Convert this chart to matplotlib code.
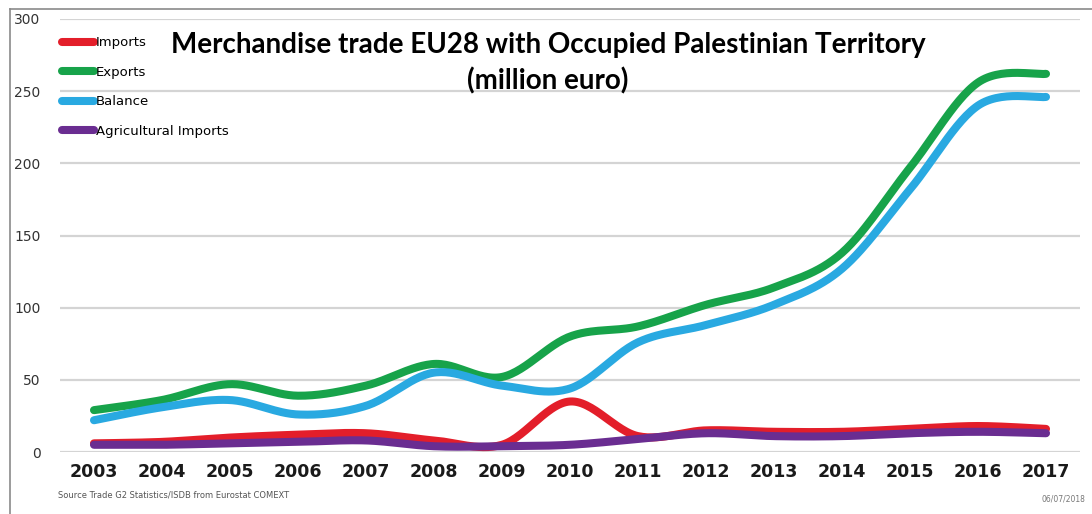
import matplotlib.pyplot as plt
import numpy as np
from matplotlib.lines import Line2D

# Werte (Mio. Euro)
years = [2003, 2004, 2005, 2006, 2007, 2008, 2009, 2010, 2011, 2012, 2013, 2014, 2015, 2016, 2017]
imports = [6, 7, 10, 12, 13, 8, 5, 35, 11, 15, 14, 14, 16, 18, 16]
exports = [29, 36, 47, 39, 46, 61, 52, 80, 87, 102, 114, 138, 197, 256, 262]
balance = [22, 31, 36, 26, 32, 55, 46, 44, 76, 88, 102, 127, 182, 240, 246]
agri_imports = [5, 5, 6, 7, 8, 4, 4, 5, 9, 13, 11, 11, 13, 14, 13]

series_names = ["Imports", "Exports", "Balance", "Agricultural Imports"]
colors = ["#e31e2a", "#17a34a", "#29a9e1", "#6a2d91"]


def smooth(x, y, n=30):
    # Glättung wie bei Excel-Linien (Bezier durch die Datenpunkte)
    x = np.asarray(x, dtype=float)
    y = np.asarray(y, dtype=float)
    px = np.concatenate([[x[0]], x, [x[-1]]])
    py = np.concatenate([[y[0]], y, [y[-1]]])
    t = np.linspace(0, 1, n)
    xs, ys = [], []
    for i in range(1, len(px) - 2):
        p0 = np.array([px[i - 1], py[i - 1]])
        p1 = np.array([px[i], py[i]])
        p2 = np.array([px[i + 1], py[i + 1]])
        p3 = np.array([px[i + 2], py[i + 2]])
        b1 = p1 + (p2 - p0) / 6
        b2 = p2 - (p3 - p1) / 6
        pts = ((1 - t) ** 3)[:, None] * p1 + (3 * (1 - t) ** 2 * t)[:, None] * b1 \
            + (3 * (1 - t) * t ** 2)[:, None] * b2 + (t ** 3)[:, None] * p2
        xs.append(pts[:, 0])
        ys.append(pts[:, 1])
    return np.concatenate(xs), np.concatenate(ys)


fig = plt.figure(figsize=(10.92, 5.14), dpi=100)
ax = fig.add_axes([60 / 1092, 1 - 452 / 514, 1020 / 1092, 433 / 514])

for name, vals, col in zip(series_names, [imports, exports, balance, agri_imports], colors):
    sx, sy = smooth(years, vals)
    ax.plot(sx, sy, color=col, lw=5.8, solid_capstyle="round", label=name)

ax.set_xlim(2002.5, 2017.5)
ax.set_ylim(0, 300)
ax.set_yticks(range(0, 301, 50))
ax.set_xticks(years)
ax.set_xticklabels([str(y) for y in years], fontsize=12.5, fontweight="bold", color="#1a1a1a")
ax.tick_params(axis="y", labelsize=10, colors="#333333", length=0, pad=14)
ax.tick_params(axis="x", length=0, pad=8)
ax.grid(axis="y", color="#d4d4d4", lw=1.6)
ax.set_axisbelow(True)
for s in ax.spines.values():
    s.set_visible(False)

leg = ax.legend(loc="upper left", bbox_to_anchor=(-0.003, 0.972), frameon=False,
                fontsize=9.5, handlelength=2.4, handletextpad=0.15, labelspacing=1.25,
                borderaxespad=0)
for h in leg.get_lines():
    h.set_linewidth(5.8)

fig.text(0.502, 0.912, "Merchandise trade EU28 with Occupied Palestinian Territory",
         ha="center", va="center", fontsize=20, fontweight="bold", family="Lato")
fig.text(0.502, 0.843, "(million euro)", ha="center", va="center", fontsize=20,
         fontweight="bold", family="Lato")

fig.text(58 / 1092, 1 - 495 / 514, "Source Trade G2 Statistics/ISDB from Eurostat COMEXT",
         fontsize=6, color="#555555", va="center")
fig.text(1085 / 1092, 1 - 499 / 514, "06/07/2018", fontsize=5.5, color="#777777",
         ha="right", va="center")

# Rahmen des Bildes
fig.add_artist(Line2D([10 / 1092, 10 / 1092], [0, 1 - 9 / 514], color="#8a8a8a", lw=1.2))
fig.add_artist(Line2D([10 / 1092, 1], [1 - 9 / 514, 1 - 9 / 514], color="#8a8a8a", lw=1.2))

fig.savefig("out.png", dpi=100)
